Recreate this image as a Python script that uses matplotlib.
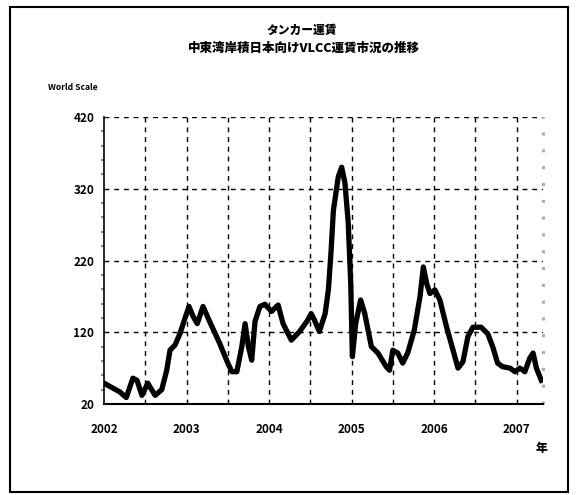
import matplotlib
matplotlib.use("Agg")
import matplotlib.pyplot as plt
from matplotlib.patches import Rectangle
from matplotlib.ticker import MultipleLocator

plt.rcParams['font.family'] = ['Noto Sans CJK JP', 'DejaVu Sans']

title_line1 = "タンカー運賃"
title_line2 = "中東湾岸積日本向けVLCC運賃市況の推移"
y_label = "World Scale"
x_unit = "年"

year_ticks = [2002, 2003, 2004, 2005, 2006, 2007]
year_labels = ["2002", "2003", "2004", "2005", "2006", "2007"]
y_ticks = [20, 120, 220, 320, 420]

t = [2002.00, 2002.11, 2002.19, 2002.27, 2002.35, 2002.40, 2002.46, 2002.53,
     2002.62, 2002.70, 2002.76, 2002.80, 2002.86, 2002.92, 2002.98, 2003.03,
     2003.08, 2003.13, 2003.20, 2003.28, 2003.40, 2003.50, 2003.55, 2003.61,
     2003.67, 2003.71, 2003.75, 2003.79, 2003.83, 2003.89, 2003.95, 2004.03,
     2004.11, 2004.17, 2004.27, 2004.37, 2004.47, 2004.51, 2004.55, 2004.61,
     2004.68, 2004.72, 2004.75, 2004.78, 2004.84, 2004.88, 2004.92, 2004.96,
     2004.99, 2005.01, 2005.05, 2005.11, 2005.16, 2005.24, 2005.32, 2005.42,
     2005.46, 2005.50, 2005.56, 2005.62, 2005.68, 2005.76, 2005.83, 2005.87,
     2005.91, 2005.95, 2006.01, 2006.07, 2006.15, 2006.23, 2006.29, 2006.35,
     2006.41, 2006.47, 2006.57, 2006.65, 2006.71, 2006.77, 2006.83, 2006.92,
     2006.98, 2007.04, 2007.10, 2007.16, 2007.20, 2007.24, 2007.30]
ws = [49, 42, 37, 29, 56, 53, 32, 49,
      32, 40, 67, 95, 102, 118, 139, 156,
      142, 132, 156, 135, 105, 77, 65, 65,
      100, 132, 100, 81, 135, 156, 159, 149,
      158, 132, 109, 121, 137, 146, 137, 121,
      146, 180, 230, 290, 337, 350, 328, 272,
      188, 86, 132, 165, 146, 100, 91, 72,
      67, 95, 91, 77, 91, 123, 170, 211,
      188, 174, 179, 165, 128, 95, 70, 79,
      114, 127, 127, 118, 100, 77, 72, 70,
      65, 70, 65, 84, 91, 70, 53]

fig = plt.figure(figsize=(5.83, 4.95), dpi=100)
fig.patch.set_facecolor('white')

# outer frame
fig.patches.append(Rectangle((10/583, 1-492/495), (568-10)/583, (492-7)/495,
                             transform=fig.transFigure, fill=False,
                             edgecolor='black', linewidth=1.5))

ax = fig.add_axes([104/583, 1-404/495, (543-104)/583, (404-117)/495])
ax.plot(t, ws, color='black', linewidth=3.8, solid_joinstyle='round')

ax.set_xlim(2002.0, 2007.32)
ax.set_ylim(20, 420)
ax.set_xticks(year_ticks)
ax.set_xticklabels(year_labels)
ax.set_yticks(y_ticks)
ax.set_yticklabels([str(v) for v in y_ticks])
ax.yaxis.set_minor_locator(MultipleLocator(20))

# grid
for v in [120, 220, 320, 420]:
    ax.axhline(v, color='black', linewidth=1, linestyle=(0, (3.5, 3.5)), zorder=0)
for k in range(1, 11):
    ax.axvline(2002 + 0.5 * k, color='black', linewidth=1, linestyle=(0, (3.5, 3.5)), zorder=0)

ax.spines['top'].set_visible(False)
ax.spines['right'].set_color('#aaaaaa')
ax.spines['right'].set_linestyle((0, (1.0, 4.5)))
ax.spines['right'].set_linewidth(2.2)
ax.spines['right'].set_capstyle('butt')
ax.spines['left'].set_linewidth(1.2)
ax.spines['bottom'].set_linewidth(1.5)

ax.tick_params(axis='both', which='major', length=0, labelsize=8.5)
ax.tick_params(axis='x', pad=14)
ax.tick_params(axis='y', pad=7)
ax.tick_params(axis='y', which='minor', length=2, width=1.5, color='#888888')
ax.tick_params(axis='x', which='minor', length=0)
for lab in ax.get_xticklabels() + ax.get_yticklabels():
    lab.set_fontweight('bold')

fig.text(302/583, 1-30/495, title_line1, ha='center', va='center',
         fontsize=8.5, fontweight='heavy')
fig.text(304/583, 1-48/495, title_line2, ha='center', va='center',
         fontsize=9, fontweight='heavy')
fig.text(48/583, 1-88/495, y_label, ha='left', va='center',
         fontsize=6.2, fontweight='bold')
fig.text(542/583, 1-448/495, x_unit, ha='center', va='center',
         fontsize=8.5, fontweight='heavy')

fig.savefig('out.png', dpi=100, facecolor='white')
